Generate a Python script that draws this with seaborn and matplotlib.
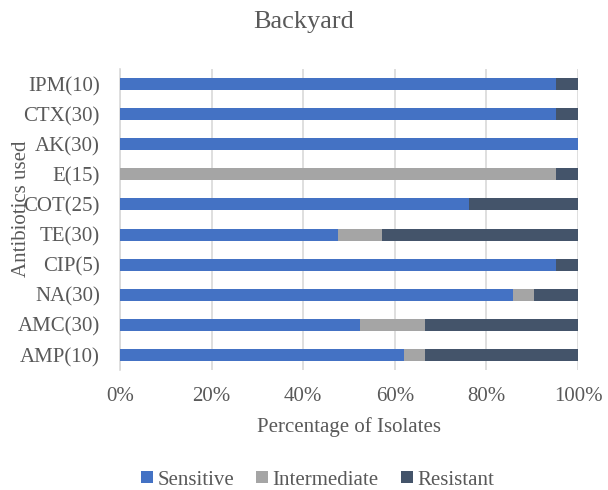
import matplotlib
matplotlib.use("Agg")
import matplotlib.pyplot as plt
from matplotlib.lines import Line2D
import numpy as np
import pandas as pd
import seaborn as sns

# Antibiotic susceptibility of backyard isolates (% of isolates)
antibiotics = ["IPM(10)", "CTX(30)", "AK(30)", "E(15)", "COT(25)",
               "TE(30)", "CIP(5)", "NA(30)", "AMC(30)", "AMP(10)"]
sensitive = [95.2, 95.2, 100.0, 0.0, 76.2, 47.6, 95.2, 85.7, 52.4, 61.9]
intermediate = [0.0, 0.0, 0.0, 95.2, 0.0, 9.5, 0.0, 4.8, 14.3, 4.8]
resistant = [4.8, 4.8, 0.0, 4.8, 23.8, 42.9, 4.8, 9.5, 33.3, 33.3]
x_ticks = [0, 20, 40, 60, 80, 100]

colors = {"Sensitive": "#4472C4", "Intermediate": "#A5A5A5", "Resistant": "#44546A"}
text_color = "#595959"

sns.set_theme(style="white")
plt.rcParams["font.family"] = ["Liberation Serif", "DejaVu Serif"]

df = pd.DataFrame({"Antibiotic": antibiotics,
                   "Sensitive": sensitive,
                   "Intermediate": intermediate,
                   "Resistant": resistant})
df["cum_S"] = df["Sensitive"]
df["cum_I"] = df["cum_S"] + df["Intermediate"]
df["cum_R"] = df["cum_I"] + df["Resistant"]

fig = plt.figure(figsize=(6.08, 4.90), dpi=100)
ax = fig.add_axes([120 / 608, 1 - 370 / 490, 458 / 608, 301 / 490])

# stacked bars: draw cumulative totals back to front
for col, name in [("cum_R", "Resistant"), ("cum_I", "Intermediate"), ("cum_S", "Sensitive")]:
    sns.barplot(data=df, x=col, y="Antibiotic", order=antibiotics, orient="h",
                color=colors[name], saturation=1, width=0.4, ax=ax, zorder=3,
                linewidth=0)

ax.set_xlim(0, 100)
ax.set_ylim(9.5, -0.5)
ax.set_xticks(x_ticks)
ax.set_xticklabels([f"{v}%" for v in x_ticks], fontsize=15, color=text_color)
ax.tick_params(axis="x", length=0, pad=12)
ax.tick_params(axis="y", length=0, pad=14.5, labelsize=15, labelcolor=text_color)
ax.grid(axis="x", color="#D9D9D9", linewidth=1.2, zorder=0)
ax.grid(axis="y", visible=False)
for s in ["top", "right", "bottom"]:
    ax.spines[s].set_visible(False)
ax.spines["left"].set_color("#D9D9D9")
ax.spines["left"].set_linewidth(1.2)

ax.set_xlabel("Percentage of Isolates", fontsize=15, color=text_color, labelpad=8)
ax.set_ylabel("")
fig.text(22 / 608, 1 - 209 / 490, "Antibiotics used", rotation=90, fontsize=15,
         color=text_color, ha="center", va="center")
fig.text(0.5, 1 - 22 / 490, "Backyard", fontsize=19, color=text_color,
         ha="center", va="center")

handles = [Line2D([0], [0], marker="s", linestyle="", markersize=8,
                  markerfacecolor=colors[k], markeredgewidth=0, label=k)
           for k in ["Sensitive", "Intermediate", "Resistant"]]
fig.legend(handles=handles, loc="center", bbox_to_anchor=(317 / 608, 1 - 480 / 490),
           ncol=3, frameon=False, fontsize=15, labelcolor=text_color,
           handletextpad=0.15, columnspacing=1.0, handlelength=0.7,
           borderpad=0, borderaxespad=0)

fig.savefig("out.png", dpi=100)
